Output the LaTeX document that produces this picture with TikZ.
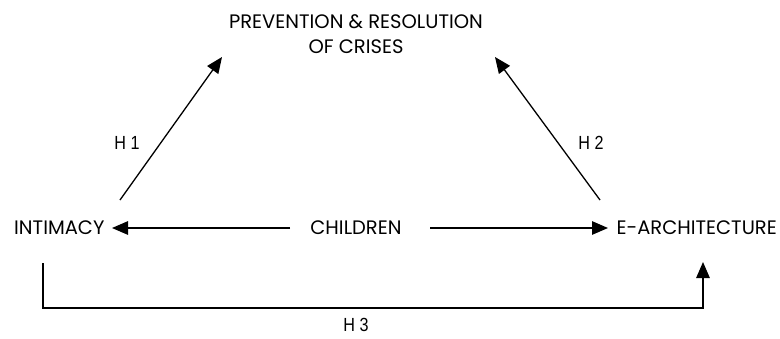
\documentclass[tikz,border=0pt]{standalone}
\usepackage{fontspec}
\setmainfont{Poppins}
\newfontfamily\hfont{Liberation Sans}
\usetikzlibrary{arrows.meta}
\begin{document}
\begin{tikzpicture}[x=1pt,y=-1pt,
  lab/.style={font=\fontsize{19.5}{25}\selectfont, inner sep=0pt, align=center},
  hlab/.style={font=\hfont\fontsize{19}{22}\selectfont, inner sep=0pt, xscale=0.85},
  arr/.style={line width=1.3pt, -{Triangle[length=16pt,width=13.5pt]}}]
\useasboundingbox (0,0) rectangle (780,338);
\node[lab] (prev) at (356,34) {PREVENTION \& RESOLUTION\\OF CRISES};
\node[lab, anchor=west] (int) at (14,228) {INTIMACY};
\node[lab] (chi) at (356,228) {CHILDREN};
\node[lab, anchor=east] (ear) at (777,228) {E-ARCHITECTURE};
\coordinate (l0) at (120,200);
\coordinate (l1) at (222,57);
\coordinate (r0) at (600,200);
\coordinate (r1) at (495,57);
\draw[arr] (l0) -- (l1);
\draw[arr] (r0) -- (r1);
\node[hlab] (h1) at (127,143) {H 1};
\node[hlab] (h2) at (591,143) {H 2};
\coordinate (cl) at (290,228);
\coordinate (cr) at (430,228);
\coordinate (il) at (112,228);
\coordinate (er) at (608,228);
\draw[arr] (cl) -- (il);
\draw[arr] (cr) -- (er);
\coordinate (b0) at (43,263);
\coordinate (b1) at (43,308);
\coordinate (b2) at (703,308);
\coordinate (b3) at (703,262);
\draw[arr] (b0) -- (b1) -- (b2) -- (b3);
\node[hlab] (h3) at (356,325) {H 3};
\end{tikzpicture}
\end{document}
